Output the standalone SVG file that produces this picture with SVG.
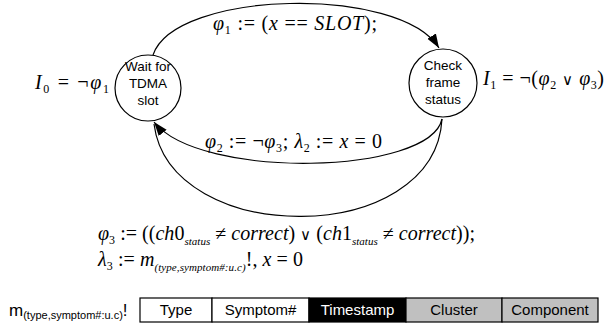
<svg xmlns="http://www.w3.org/2000/svg" width="606" height="332" viewBox="0 0 606 332">
<style>
.bg{fill:#fff}
.st{fill:#fff;stroke:#000;stroke-width:1.2}
.n{font-family:"Liberation Sans",Arial,sans-serif;font-size:13.5px;text-anchor:middle;fill:#000}
.m{font-family:"Liberation Serif","Times New Roman",serif;font-size:20px;fill:#000}
.i{font-style:italic}
.s{font-size:12px}
.ss{font-size:11px}
.or{font-family:"DejaVu Sans",sans-serif;font-weight:200;font-size:15px}
.e{fill:none;stroke:#000;stroke-width:1.2}
.cell{stroke:#000;stroke-width:1.2}
.ct{font-family:"Liberation Sans",Arial,sans-serif;font-size:15px;text-anchor:middle}
</style>
<defs>
<marker id="ah" markerUnits="userSpaceOnUse" markerWidth="16" markerHeight="12" refX="14" refY="5" orient="auto">
<path d="M0,0 L14,5 L0,10 z" fill="#000"/>
</marker>
</defs>
<rect class="bg" x="0" y="0" width="606" height="332"/>

<g id="connectors">
<path class="e" d="M153,55 C175,-10 400,-15 439,48" marker-end="url(#ah)"/>
<path class="e" d="M442,119 C430,175 200,180 154,122" marker-end="url(#ah)"/>
<path class="e" d="M442,119 C435,248 170,248 154,124"/>
</g>

<g id="node-wait">
<circle class="st" cx="148" cy="88" r="33"/>
<text class="n" x="148" y="71">Wait for</text>
<text class="n" x="148" y="88">TDMA</text>
<text class="n" x="148" y="105">slot</text>
</g>

<g id="node-check">
<circle class="st" cx="443" cy="83" r="34"/>
<text class="n" x="443" y="70">Check</text>
<text class="n" x="443" y="87">frame</text>
<text class="n" x="443" y="104">status</text>
</g>

<g id="labels">
<text class="m" x="213" y="30" textLength="164" lengthAdjust="spacing"><tspan class="i">φ</tspan><tspan class="s" dy="4">1</tspan><tspan dy="-4"> := (</tspan><tspan class="i">x</tspan> == <tspan class="i">SLOT</tspan>);</text>
<text class="m" x="205" y="148" textLength="177" lengthAdjust="spacing"><tspan class="i">φ</tspan><tspan class="s" dy="4">2</tspan><tspan dy="-4"> := ¬</tspan><tspan class="i">φ</tspan><tspan class="s" dy="4">3</tspan><tspan dy="-4">; </tspan><tspan class="i">λ</tspan><tspan class="s" dy="4">2</tspan><tspan dy="-4"> := </tspan><tspan class="i">x</tspan> = 0</text>
<text class="m" x="35" y="89" textLength="74" lengthAdjust="spacing"><tspan class="i">I</tspan><tspan class="s" dy="4">0</tspan><tspan dy="-4"> = ¬</tspan><tspan class="i">φ</tspan><tspan class="s" dy="4">1</tspan></text>
<text class="m" x="483" y="85" textLength="121" lengthAdjust="spacing"><tspan class="i">I</tspan><tspan class="s" dy="4">1</tspan><tspan dy="-4"> = ¬(</tspan><tspan class="i">φ</tspan><tspan class="s" dy="4">2</tspan><tspan dy="-4"> </tspan><tspan class="or">∨</tspan><tspan> </tspan><tspan class="i">φ</tspan><tspan class="s" dy="4">3</tspan><tspan dy="-4">)</tspan></text>
<text class="m" x="98" y="240" textLength="377" lengthAdjust="spacing"><tspan class="i">φ</tspan><tspan class="s" dy="4">3</tspan><tspan dy="-4"> := ((</tspan><tspan class="i">ch</tspan>0<tspan class="ss i" dy="5">status</tspan><tspan dy="-5"> ≠ </tspan><tspan class="i">correct</tspan>) <tspan class="or">∨</tspan> (<tspan class="i">ch</tspan>1<tspan class="ss i" dy="5">status</tspan><tspan dy="-5"> ≠ </tspan><tspan class="i">correct</tspan>));</text>
<text class="m" x="98" y="266" textLength="205" lengthAdjust="spacing"><tspan class="i">λ</tspan><tspan class="s" dy="4">3</tspan><tspan dy="-4"> := </tspan><tspan class="i">m</tspan><tspan class="ss i" dy="5">(type,symptom#:u.c)</tspan><tspan dy="-5">!, </tspan><tspan class="i">x</tspan> = 0</text>
</g>

<g id="message">
<text x="9" y="316" font-family="Liberation Sans, Arial, sans-serif" font-size="17">m<tspan font-size="11" dy="3">(type,symptom#:u.c)</tspan><tspan dy="-3">!</tspan></text>
<g id="cell-type"><rect class="cell" x="140" y="298" width="72" height="24" fill="#fff"/><text class="ct" x="176" y="315">Type</text></g>
<g id="cell-symptom"><rect class="cell" x="212" y="298" width="97" height="24" fill="#fff"/><text class="ct" x="260.5" y="315">Symptom#</text></g>
<g id="cell-timestamp"><rect class="cell" x="309" y="298" width="97" height="24" fill="#000"/><text class="ct" x="357.5" y="315" fill="#fff">Timestamp</text></g>
<g id="cell-cluster"><rect class="cell" x="406" y="298" width="96" height="24" fill="#c0c0c0"/><text class="ct" x="454" y="315">Cluster</text></g>
<g id="cell-component"><rect class="cell" x="502" y="298" width="96" height="24" fill="#c0c0c0"/><text class="ct" x="550" y="315">Component</text></g>
</g>
</svg>
